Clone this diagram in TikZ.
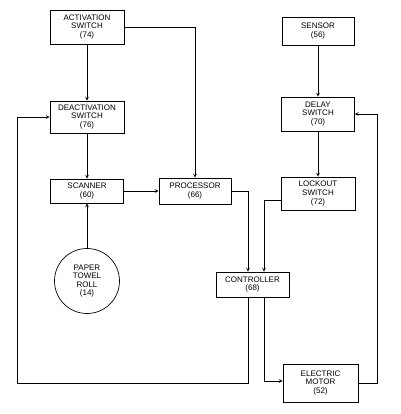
\documentclass[tikz,border=0pt]{standalone}
\usepackage{fontspec}
\setmainfont{Liberation Sans}
\usetikzlibrary{arrows}

\begin{document}
\begin{tikzpicture}[x=1pt, y=-1pt,
      >=stealth,
      every node/.style={
        font=\fontsize{8}{8.6}\selectfont,
        align=center
      },
      block/.style={
        draw,
        line width=0.7pt,
        inner sep=1pt
      },
      link/.style={
        ->,
        line width=0.7pt
      },
    ]

    \useasboundingbox (0, 0) rectangle (400, 414);

    % left column
    \node [block, minimum width=74pt, minimum height=34pt] (act) at (87, 27)
          {ACTIVATION\\SWITCH\\(74)};
    \node [block, minimum width=74pt, minimum height=32pt] (deact) at (87, 117)
          {DEACTIVATION\\SWITCH\\(76)};
    \node [block, minimum width=73pt, minimum height=24pt] (scanner) at (87, 191)
          {SCANNER\\(60)};
    \node [block, circle, minimum size=65pt] (roll) at (87, 281)
          {PAPER\\TOWEL\\ROLL\\(14)};
    \node [block, minimum width=72pt, minimum height=26pt] (proc) at (195, 191)
          {PROCESSOR\\(66)};

    % right column
    \node [block, minimum width=72pt, minimum height=28pt] (sensor) at (318, 31)
          {SENSOR\\(56)};
    \node [block, minimum width=73pt, minimum height=34pt] (delay) at (318, 114)
          {DELAY\\SWITCH\\(70)};
    \node [block, minimum width=74pt, minimum height=33pt] (lockout) at (318, 193.5)
          {LOCKOUT\\SWITCH\\(72)};
    \node [block, minimum width=73pt, minimum height=25pt] (ctrl) at (252.5, 284.5)
          {CONTROLLER\\(68)};
    \node [block, minimum width=75pt, minimum height=38pt] (motor) at (320.5, 383)
          {ELECTRIC\\MOTOR\\(52)};

    \coordinate (fbl) at (17, 383);
    \coordinate (fbr) at (377, 383);

    \draw [link] (act) -- (deact);
    \draw [link] (act.east) -| (proc.north);
    \draw [link] (deact) -- (scanner);
    \draw [link] (roll) -- (scanner);
    \draw [link] (scanner) -- (proc);
    \draw [link] (sensor) -- (delay);
    \draw [link] (delay) -- (lockout);
    \draw [link] (proc.east) -| ([xshift=-4.5pt]ctrl.north);
    \draw [link] ([yshift=-6.5pt]lockout.west) -| ([xshift=11.5pt]ctrl.north);
    \draw [link] ([xshift=11.5pt]ctrl.south) |- ([yshift=2pt]motor.west);
    \draw [link] ([xshift=-4.5pt]ctrl.south) |- (fbl) |- (deact.west);
    \draw [link] (motor.east) -| (fbr |- delay.east) -- (delay.east);
\end{tikzpicture}
\end{document}
